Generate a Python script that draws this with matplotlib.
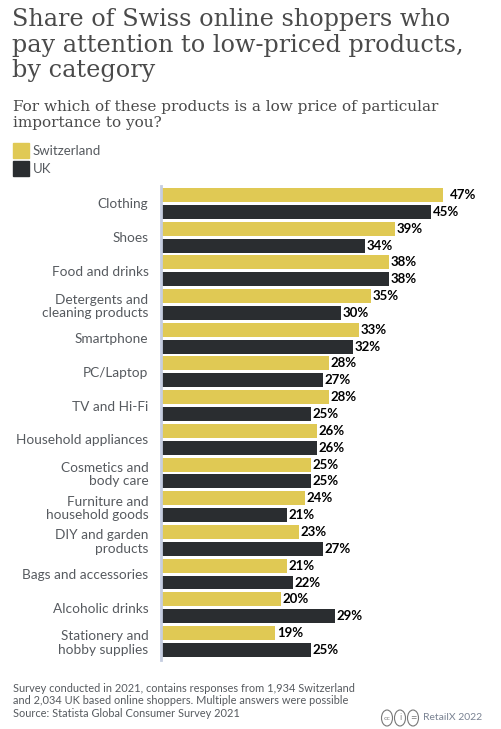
import matplotlib
matplotlib.use('Agg')
import matplotlib.pyplot as plt
from matplotlib.patches import Rectangle, Circle
import numpy as np

categories = ['Clothing', 'Shoes', 'Food and drinks', 'Detergents and\ncleaning products',
              'Smartphone', 'PC/Laptop', 'TV and Hi-Fi', 'Household appliances',
              'Cosmetics and\nbody care', 'Furniture and\nhousehold goods',
              'DIY and garden\nproducts', 'Bags and accessories', 'Alcoholic drinks',
              'Stationery and\nhobby supplies']
switzerland = [47, 39, 38, 35, 33, 28, 28, 26, 25, 24, 23, 21, 20, 19]
uk = [45, 34, 38, 30, 32, 27, 25, 26, 25, 21, 27, 22, 29, 25]
series_names = ['Switzerland', 'UK']

W, H = 502, 729
YELLOW = '#e0c954'
DARK = '#2a2d30'
GREY = '#565a5f'

fig = plt.figure(figsize=(W / 100, H / 100), dpi=100)

def fx(px):
    return px / W

def fy(py):
    return 1 - py / H

# title block
fig.text(fx(12), fy(8), 'Share of Swiss online shoppers who\npay attention to low-priced products,\nby category',
         family='DejaVu Serif', fontsize=17.2, color='#4a4a4a', va='top', ha='left', linespacing=1.15)
fig.text(fx(13), fy(100), 'For which of these products is a low price of particular\nimportance to you?',
         family='DejaVu Serif', fontsize=11, color='#4a4a4a', va='top', ha='left', linespacing=1.15)

# legend
for i, (name, col) in enumerate(zip(series_names, [YELLOW, DARK])):
    top = 143 + i * 18
    fig.patches.append(Rectangle((fx(13), fy(top + 15)), fx(16), 15 / H, color=col,
                                 transform=fig.transFigure, figure=fig))
    fig.text(fx(33), fy(top + 8), name, family='Lato', fontsize=9.5, color=GREY, va='center')

# bars
ax = fig.add_axes([fx(161), fy(660), fx(300), (660 - 186) / H])
n = len(categories)
y_sw = np.arange(n) * 2
y_uk = y_sw + 1
bh = 0.83
ax.barh(y_sw, switzerland, height=bh, color=YELLOW)
ax.barh(y_uk, uk, height=bh, color=DARK)
ax.set_ylim(2 * n - 0.4, -0.535)
ax.set_xlim(0, 50)

for y, v in zip(y_sw, switzerland):
    off = 1.2 if v == max(switzerland) else 0.3
    ax.text(v + off, y, f'{v}%', va='center', ha='left', fontsize=9.5,
            fontweight='bold', family='Lato', color='black', clip_on=False)
for y, v in zip(y_uk, uk):
    ax.text(v + 0.3, y, f'{v}%', va='center', ha='left', fontsize=9.5,
            fontweight='bold', family='Lato', color='black', clip_on=False)

ax.set_yticks(y_sw + 0.5)
ax.set_yticklabels(categories, family='Lato', fontsize=9.8, color=GREY, linespacing=1.15)
ax.tick_params(axis='y', length=0, pad=9)
ax.set_xticks([])
for s in ['top', 'right', 'bottom']:
    ax.spines[s].set_visible(False)
ax.spines['left'].set_color('#c5cde0')
ax.spines['left'].set_linewidth(2)

# footer
fig.text(fx(13), fy(683), 'Survey conducted in 2021, contains responses from 1,934 Switzerland\n'
         'and 2,034 UK based online shoppers. Multiple answers were possible\n'
         'Source: Statista Global Consumer Survey 2021',
         family='Lato', fontsize=7.9, color=GREY, va='top', ha='left', linespacing=1.15)

for i, sym in enumerate(['cc', 'i', '=']):
    cx = 387 + i * 13
    fig.patches.append(Circle((fx(cx), fy(718)), 5.5 / W, transform=fig.transFigure,
                              fill=False, edgecolor='#777777', linewidth=0.8, figure=fig))
    fig.text(fx(cx), fy(718), sym, fontsize=4.5 if sym == 'cc' else 5.5, color='#777777',
             ha='center', va='center', family='DejaVu Sans')
fig.text(fx(482), fy(718), 'RetailX 2022', family='Lato', fontsize=7.5, color='#7a8393',
         ha='right', va='center')

fig.savefig('out.png', dpi=100)
